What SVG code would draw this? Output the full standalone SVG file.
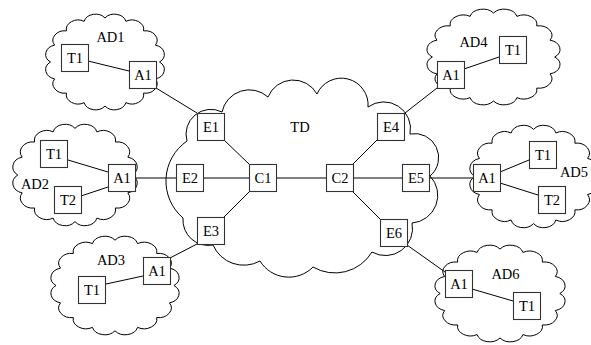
<svg xmlns="http://www.w3.org/2000/svg" xmlns:xlink="http://www.w3.org/1999/xlink" width="591" height="345" viewBox="0 0 591 345">
<style>
.cloud{fill:#fff;stroke:#000;stroke-width:1;vector-effect:non-scaling-stroke}
.box{fill:#fff;stroke:#333;stroke-width:1.1}
.lbl{font-family:'Liberation Serif','Times New Roman',serif;font-size:14.5px;fill:#000;text-anchor:middle}
.conn line{stroke:#000;stroke-width:1}
</style>
<defs>
<path id="c16" class="cloud" d="M94,50 A9.5,9.5 0 0 1 90.65,66.84 A9.5,9.5 0 0 1 81.11,81.11 A9.5,9.5 0 0 1 66.84,90.65 A9.5,9.5 0 0 1 50,94 A9.5,9.5 0 0 1 33.16,90.65 A9.5,9.5 0 0 1 18.89,81.11 A9.5,9.5 0 0 1 9.35,66.84 A9.5,9.5 0 0 1 6,50 A9.5,9.5 0 0 1 9.35,33.16 A9.5,9.5 0 0 1 18.89,18.89 A9.5,9.5 0 0 1 33.16,9.35 A9.5,9.5 0 0 1 50,6 A9.5,9.5 0 0 1 66.84,9.35 A9.5,9.5 0 0 1 81.11,18.89 A9.5,9.5 0 0 1 90.65,33.16 A9.5,9.5 0 0 1 94,50 Z"/>
</defs>

<g id="clouds">
<path id="cloud-TD" class="cloud" d="M222,112 A27.9,27.9 0 0 1 268,97 A27.2,27.2 0 0 1 317,94 A26.7,26.7 0 0 1 368,107 A26.8,26.8 0 0 1 410,134 A24,24 0 0 1 430,176 A27.8,27.8 0 0 1 412,223 A27.1,27.1 0 0 1 372,252 A43.3,43.3 0 0 1 313,267 A33.8,33.8 0 0 1 260,261 A33.5,33.5 0 0 1 213,245 A25.4,25.4 0 0 1 183,218 A48.6,48.6 0 0 1 187,141 A24.8,24.8 0 0 1 222,112 Z"/>
<use id="cloud-AD1" xlink:href="#c16" transform="translate(43,12) scale(1.24,1.0)"/>
<use id="cloud-AD2" xlink:href="#c16" transform="translate(10,122) scale(1.30,1.06)"/>
<use id="cloud-AD3" xlink:href="#c16" transform="translate(48,234) scale(1.34,1.03)"/>
<use id="cloud-AD4" xlink:href="#c16" transform="translate(424,7) scale(1.39,1.0)"/>
<use id="cloud-AD5" xlink:href="#c16" transform="translate(467,123) scale(1.33,1.07)"/>
<use id="cloud-AD6" xlink:href="#c16" transform="translate(432,243) scale(1.36,1.01)"/>
</g>

<g id="connectors" class="conn">
<line x1="88" y1="61" x2="129" y2="71"/>
<line x1="156" y1="88" x2="197" y2="113"/>
<line x1="68" y1="160" x2="108" y2="172"/>
<line x1="81" y1="196" x2="108" y2="187"/>
<line x1="135" y1="178" x2="176" y2="178"/>
<line x1="203" y1="178" x2="249" y2="178"/>
<line x1="224" y1="140" x2="249" y2="164"/>
<line x1="224" y1="217" x2="249" y2="192"/>
<line x1="170" y1="258" x2="197" y2="244"/>
<line x1="106" y1="284" x2="143" y2="276"/>
<line x1="276" y1="178" x2="326" y2="178"/>
<line x1="353" y1="164" x2="377" y2="140"/>
<line x1="353" y1="178" x2="402" y2="178"/>
<line x1="353" y1="192" x2="380" y2="219"/>
<line x1="405" y1="113" x2="437" y2="88"/>
<line x1="464" y1="69" x2="499" y2="57"/>
<line x1="429" y1="178" x2="473" y2="178"/>
<line x1="500" y1="172" x2="529" y2="160"/>
<line x1="500" y1="183" x2="538" y2="195"/>
<line x1="407" y1="245" x2="445" y2="272"/>
<line x1="472" y1="289" x2="513" y2="301"/>
</g>

<g id="labels">
<text class="lbl" x="110.5" y="42">AD1</text>
<text class="lbl" x="35" y="189">AD2</text>
<text class="lbl" x="111" y="265">AD3</text>
<text class="lbl" x="473.5" y="47">AD4</text>
<text class="lbl" x="574" y="177">AD5</text>
<text class="lbl" x="505.5" y="279">AD6</text>
<text class="lbl" x="300" y="132">TD</text>
</g>

<g id="AD1-T1"><rect class="box" x="61.5" y="44.5" width="27" height="27"/><text class="lbl" x="75" y="63">T1</text></g>
<g id="AD1-A1"><rect class="box" x="129.5" y="61.5" width="27" height="27"/><text class="lbl" x="143" y="80">A1</text></g>
<g id="AD2-T1"><rect class="box" x="40.5" y="140.5" width="27" height="27"/><text class="lbl" x="54" y="159">T1</text></g>
<g id="AD2-A1"><rect class="box" x="108.5" y="164.5" width="27" height="27"/><text class="lbl" x="122" y="183">A1</text></g>
<g id="AD2-T2"><rect class="box" x="54.5" y="186.5" width="27" height="27"/><text class="lbl" x="68" y="205">T2</text></g>
<g id="AD3-A1"><rect class="box" x="143.5" y="257.5" width="27" height="27"/><text class="lbl" x="157" y="276">A1</text></g>
<g id="AD3-T1"><rect class="box" x="78.5" y="276.5" width="27" height="27"/><text class="lbl" x="92" y="295">T1</text></g>
<g id="E1"><rect class="box" x="197.5" y="113.5" width="27" height="27"/><text class="lbl" x="211" y="132">E1</text></g>
<g id="E2"><rect class="box" x="176.5" y="164.5" width="27" height="27"/><text class="lbl" x="190" y="183">E2</text></g>
<g id="E3"><rect class="box" x="197.5" y="217.5" width="27" height="27"/><text class="lbl" x="211" y="236">E3</text></g>
<g id="C1"><rect class="box" x="249.5" y="164.5" width="27" height="27"/><text class="lbl" x="263" y="183">C1</text></g>
<g id="C2"><rect class="box" x="326.5" y="164.5" width="27" height="27"/><text class="lbl" x="340" y="183">C2</text></g>
<g id="E4"><rect class="box" x="377.5" y="113.5" width="27" height="27"/><text class="lbl" x="391" y="132">E4</text></g>
<g id="E5"><rect class="box" x="402.5" y="164.5" width="27" height="27"/><text class="lbl" x="416" y="183">E5</text></g>
<g id="E6"><rect class="box" x="380.5" y="219.5" width="27" height="27"/><text class="lbl" x="394" y="238">E6</text></g>
<g id="AD4-A1"><rect class="box" x="437.5" y="61.5" width="27" height="27"/><text class="lbl" x="451" y="80">A1</text></g>
<g id="AD4-T1"><rect class="box" x="499.5" y="36.5" width="27" height="27"/><text class="lbl" x="513" y="55">T1</text></g>
<g id="AD5-A1"><rect class="box" x="473.5" y="164.5" width="27" height="27"/><text class="lbl" x="487" y="183">A1</text></g>
<g id="AD5-T1"><rect class="box" x="529.5" y="141.5" width="27" height="27"/><text class="lbl" x="543" y="160">T1</text></g>
<g id="AD5-T2"><rect class="box" x="538.5" y="186.5" width="27" height="27"/><text class="lbl" x="552" y="205">T2</text></g>
<g id="AD6-A1"><rect class="box" x="445.5" y="270.5" width="27" height="27"/><text class="lbl" x="459" y="289">A1</text></g>
<g id="AD6-T1"><rect class="box" x="513.5" y="292.5" width="27" height="27"/><text class="lbl" x="527" y="311">T1</text></g>
</svg>
